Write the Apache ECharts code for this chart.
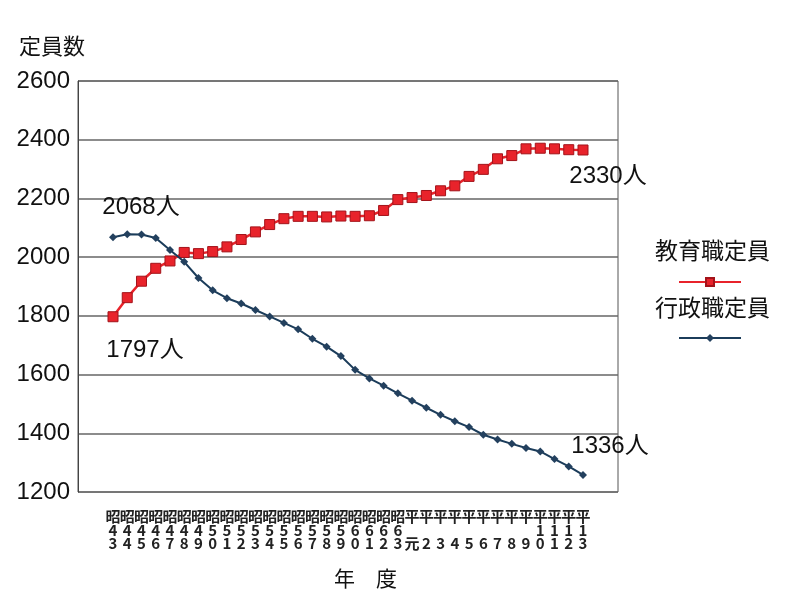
<!DOCTYPE html>
<html>
<head>
<meta charset="utf-8">
<script src="https://cdn.jsdelivr.net/npm/echarts@6/dist/echarts.min.js"></script>
<style>
html, body { margin: 0; background: #fff; }
#chart { width: 804px; height: 598px; }
</style>
</head>
<body>
<div id="chart"></div>
<script>
// 年度
var years = [
  "昭43", "昭44", "昭45", "昭46", "昭47", "昭48", "昭49", "昭50", "昭51", "昭52",
  "昭53", "昭54", "昭55", "昭56", "昭57", "昭58", "昭59", "昭60", "昭61", "昭62",
  "昭63", "平元", "平2", "平3", "平4", "平5", "平6", "平7", "平8", "平9",
  "平10", "平11", "平12", "平13"
];
// 教育職定員
var kyoiku = [
  1797, 1862, 1918, 1962, 1987, 2016, 2012, 2019, 2035, 2060,
  2086, 2111, 2131, 2139, 2139, 2137, 2140, 2139, 2141, 2159,
  2196, 2203, 2210, 2226, 2243, 2275, 2299, 2335, 2346, 2369,
  2371, 2369, 2366, 2365
];
// 行政職定員
var gyosei = [
  2068, 2078, 2077, 2065, 2024, 1984, 1929, 1887, 1860, 1842,
  1820, 1798, 1776, 1754, 1722, 1695, 1663, 1616, 1587, 1562,
  1536, 1511, 1487, 1463, 1441, 1421, 1395, 1379, 1364, 1350,
  1338, 1312, 1287, 1258
];
var seriesNames = ["教育職定員", "行政職定員"];
var kyoikuNotes = { 0: "1797人", 33: "2330人" };
var gyoseiNotes = { 0: "2068人", 33: "1336人" };
var yMin = 1200, yMax = 2600, yStep = 200;

var FONT = "'Liberation Sans', 'Noto Sans CJK JP', sans-serif";

// 注記ラベル付きのデータ
function withNotes(values, notes, styles) {
  return values.map(function (v, i) {
    if (notes[i] === undefined) return v;
    var st = styles[i];
    return {
      value: v,
      label: {
        show: true,
        formatter: notes[i],
        position: st.position,
        offset: st.offset,
        fontSize: 24,
        color: "#111",
        fontFamily: FONT
      }
    };
  });
}

var chart = echarts.init(document.getElementById("chart"));
chart.setOption({
  backgroundColor: "#fff",
  animation: false,
  title: [
    { text: "定員数", left: 14, top: 32, textStyle: { fontSize: 22, fontWeight: "normal", color: "#111", fontFamily: FONT } },
    { text: "年\u3000度", left: 329, top: 565, textStyle: { fontSize: 21, fontWeight: "normal", color: "#111", fontFamily: FONT } }
  ],
  legend: [
    {
      // 線と記号のみ
      data: seriesNames,
      orient: "vertical",
      left: 673,
      top: 272,
      itemWidth: 62,
      itemHeight: 10,
      itemGap: 46,
      selectedMode: false,
      formatter: function () { return ""; },
      textStyle: { fontSize: 1 }
    },
    {
      // 文字のみ
      data: seriesNames.map(function (n) {
        return { name: n, icon: "rect", itemStyle: { opacity: 0 }, lineStyle: { opacity: 0 } };
      }),
      orient: "vertical",
      left: 644,
      top: 236,
      itemWidth: 0,
      itemHeight: 0,
      itemGap: 33,
      selectedMode: false,
      textStyle: { fontSize: 23, lineHeight: 24, color: "#111", fontFamily: FONT }
    }
  ],
  grid: [
    { left: 78, right: 186, top: 81, bottom: 106, show: true, borderColor: "#555", borderWidth: 1 },
    { left: 113, right: 221, top: 81, bottom: 106 }
  ],
  xAxis: [
    { gridIndex: 0, type: "value", show: false, min: 0, max: 1 },
    {
      gridIndex: 1,
      type: "category",
      data: years,
      boundaryGap: false,
      axisLine: { show: false },
      axisTick: { show: false },
      axisLabel: {
        interval: 0,
        margin: 18,
        fontSize: 15,
        fontWeight: "bold",
        lineHeight: 13.5,
        color: "#222",
        fontFamily: "'Noto Sans CJK JP', sans-serif",
        formatter: function (v) {
          var era = v.charAt(0);
          var num = v.slice(1);
          var tens = num.length > 1 ? num.charAt(0) : " ";
          var ones = num.charAt(num.length - 1);
          return era + "\n" + tens + "\n" + ones;
        }
      }
    }
  ],
  yAxis: [
    {
      gridIndex: 0,
      type: "value",
      min: yMin,
      max: yMax,
      interval: yStep,
      axisLine: { show: true, lineStyle: { color: "#444", width: 1 } },
      axisTick: { show: false },
      axisLabel: {
        fontSize: 24, margin: 8, color: "#111", fontFamily: FONT,
        formatter: function (v) { return String(v); }
      },
      splitLine: { show: true, lineStyle: { color: "#666", width: 1.5 } }
    },
    { gridIndex: 1, type: "value", min: yMin, max: yMax, show: false, splitLine: { show: false } }
  ],
  series: [
    {
      name: seriesNames[0],
      type: "line",
      xAxisIndex: 1,
      yAxisIndex: 1,
      symbol: "rect",
      symbolSize: 10,
      lineStyle: { color: "#e8232b", width: 2.5 },
      itemStyle: { color: "#e8232b", borderColor: "#a3131a", borderWidth: 1 },
      z: 3,
      data: withNotes(kyoiku, kyoikuNotes, {
        0: { position: "bottom", offset: [32, 11] },
        33: { position: "bottom", offset: [25, 4] }
      })
    },
    {
      name: seriesNames[1],
      type: "line",
      xAxisIndex: 1,
      yAxisIndex: 1,
      symbol: "diamond",
      symbolSize: 8,
      lineStyle: { color: "#1b3c5a", width: 2 },
      itemStyle: { color: "#23405e" },
      z: 4,
      data: withNotes(gyosei, gyoseiNotes, {
        0: { position: "top", offset: [28, -9] },
        33: { position: "top", offset: [27, -8] }
      })
    }
  ]
});
</script>
</body>
</html>
